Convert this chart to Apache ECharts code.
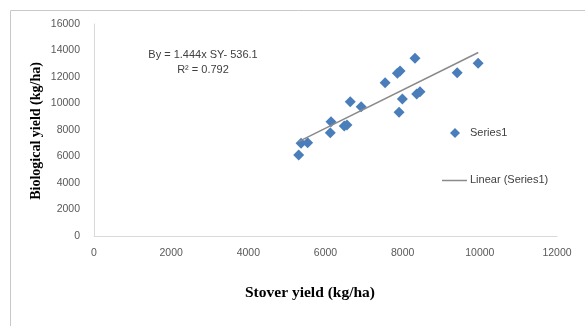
<!DOCTYPE html>
<html><head><meta charset="utf-8">
<script src="https://cdn.jsdelivr.net/npm/echarts@6/dist/echarts.min.js"></script>
<style>html,body{margin:0;padding:0;background:#fff}#c{width:585px;height:326px}</style>
</head><body><div id="c"></div>
<script>
const stover = [5305, 5367, 5537, 6124, 6142, 6486, 6556, 6641, 6925, 7545, 7863, 7933, 8320, 7907, 7992, 8364, 8450, 9413, 9956];
const biological = [6113, 6996, 7042, 7796, 8626, 8302, 8377, 10136, 9758, 11570, 12279, 12453, 13411, 9336, 10340, 10717, 10891, 12325, 13034];
const trendX = [5300, 9960];
const trendY = [7117, 13846];
const xTicks = [0, 2000, 4000, 6000, 8000, 10000, 12000];
const yTicks = [0, 2000, 4000, 6000, 8000, 10000, 12000, 14000, 16000];
const equation = ['By = 1.444x SY- 536.1', 'R\u00b2 = 0.792'];

const chart = echarts.init(document.getElementById('c'));
const labelFont = {color: '#595959', fontFamily: 'Liberation Sans', fontSize: 10.5, formatter: v => String(v)};
chart.setOption({
  animation: false,
  grid: {left: 94, right: 28, top: 24, bottom: 90},
  xAxis: {
    type: 'value', min: xTicks[0], max: xTicks[xTicks.length-1], interval: 2000,
    axisLine: {show: true, lineStyle: {color: '#d9d9d9', width: 1}},
    axisTick: {show: false}, splitLine: {show: false},
    axisLabel: Object.assign({margin: 12}, labelFont)
  },
  yAxis: {
    type: 'value', min: yTicks[0], max: yTicks[yTicks.length-1], interval: 2000,
    axisLine: {show: true, lineStyle: {color: '#d9d9d9', width: 1}},
    axisTick: {show: false}, splitLine: {show: false},
    axisLabel: Object.assign({margin: 14}, labelFont)
  },
  series: [
    {type: 'scatter', name: 'Series1', symbol: 'diamond', symbolSize: 11,
     itemStyle: {color: '#4a7ebb', opacity: 1},
     data: stover.map((x, i) => [x, biological[i]])},
    {type: 'line', name: 'Linear (Series1)', showSymbol: false, symbol: 'none',
     lineStyle: {color: '#8a8a8a', width: 1.5},
     data: trendX.map((x, i) => [x, trendY[i]])}
  ],
  graphic: [
    {type: 'rect', shape: {x: 10.5, y: 10.5, width: 700, height: 400}, style: {fill: 'none', stroke: '#c8c8c8', lineWidth: 1}, silent: true},
    {type: 'text', x: 203, y: 55, style: {text: equation[0], fill: '#404040', font: '11px "Liberation Sans"', textAlign: 'center', textVerticalAlign: 'middle'}},
    {type: 'text', x: 203, y: 70, style: {text: equation[1], fill: '#404040', font: '11px "Liberation Sans"', textAlign: 'center', textVerticalAlign: 'middle'}},
    {type: 'text', x: 310, y: 293, style: {text: 'Stover yield (kg/ha)', fill: '#000', font: 'bold 15.5px "Liberation Serif"', textAlign: 'center', textVerticalAlign: 'middle'}},
    {type: 'text', x: 36, y: 131, rotation: Math.PI/2, style: {text: 'Biological yield (kg/ha)', fill: '#000', font: 'bold 14px "Liberation Serif"', textAlign: 'center', textVerticalAlign: 'middle'}},
    {type: 'polygon', shape: {points: [[455,128],[460,133],[455,138],[450,133]]}, style: {fill: '#4a7ebb'}},
    {type: 'text', x: 470, y: 133, style: {text: 'Series1', fill: '#404040', font: '11px "Liberation Sans"', textVerticalAlign: 'middle'}},
    {type: 'line', shape: {x1: 442, y1: 180.5, x2: 467, y2: 180.5}, style: {stroke: '#8a8a8a', lineWidth: 1.5}},
    {type: 'text', x: 470, y: 180, style: {text: 'Linear (Series1)', fill: '#404040', font: '11px "Liberation Sans"', textVerticalAlign: 'middle'}}
  ]
});
</script></body></html>
